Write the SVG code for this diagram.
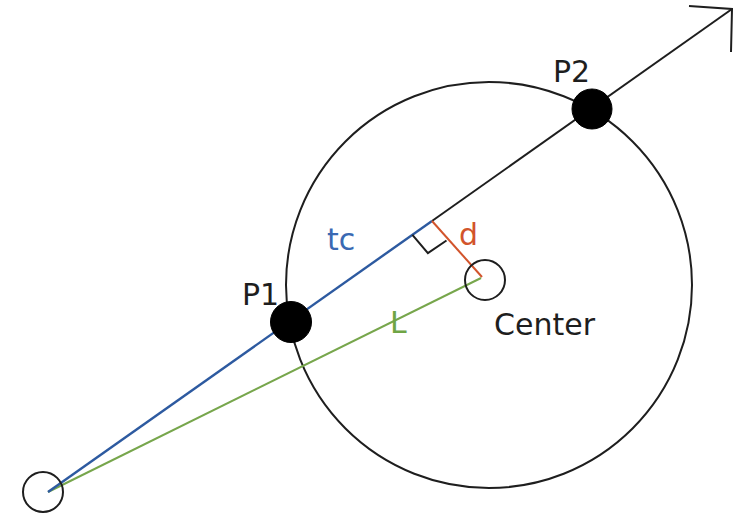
<svg xmlns="http://www.w3.org/2000/svg" width="751" height="514" viewBox="0 0 751 514">
<style>
.k{fill:none;stroke:#1e1e1e;stroke-width:2}
.dot{fill:#000;stroke:#000;stroke-width:1}
text{font-family:"DejaVu Sans","Liberation Sans",sans-serif;font-size:30px}
</style>
<rect width="751" height="514" fill="#fff"/>
<g id="circle"><circle class="k" cx="489" cy="285" r="203"/></g>
<g id="connectors">
<line x1="48" y1="492" x2="481" y2="278" stroke="#77a64c" stroke-width="2"/>
<line x1="432" y1="221" x2="732" y2="9" stroke="#1e1e1e" stroke-width="2"/>
<line x1="48" y1="492" x2="432" y2="221" stroke="#2d5aa0" stroke-width="2.4"/>
<line x1="432" y1="221" x2="482" y2="277" stroke="#d2542c" stroke-width="2"/>
<polyline class="k" points="412.4,234.8 427.9,253.2 446.5,240.5"/>
<polyline class="k" points="689,6 732,9 731,52"/>
</g>
<g id="origin"><circle class="k" cx="43" cy="492" r="20"/></g>
<g id="center"><circle class="k" cx="485" cy="280" r="20"/><text x="494" y="335" fill="#1e1e1e">Center</text></g>
<g id="p1"><circle class="dot" cx="291" cy="322" r="20.5"/><text x="242" y="305" fill="#1e1e1e">P1</text></g>
<g id="p2"><circle class="dot" cx="592" cy="109" r="20"/><text x="553" y="82" fill="#1e1e1e">P2</text></g>
<g id="labels">
<text x="327" y="250" fill="#3a69b3">tc</text>
<text x="459" y="245" fill="#d2542c">d</text>
<text x="390" y="333" fill="#6fa545">L</text>
</g>
</svg>
